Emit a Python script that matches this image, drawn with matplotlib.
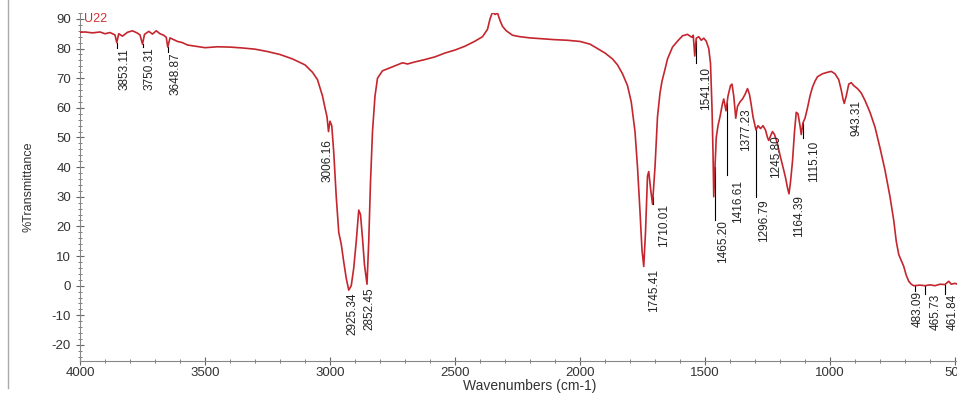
import numpy as np
import matplotlib
matplotlib.use("Agg")
import matplotlib.pyplot as plt
from matplotlib.lines import Line2D
from matplotlib.ticker import MultipleLocator

plt.rcParams['font.family'] = ['Liberation Sans', 'DejaVu Sans']
plt.rcParams['axes.unicode_minus'] = False

# spectrum (wavenumber, %T)
wavenumbers = [4000, 3980, 3950, 3920, 3900, 3880, 3860, 3853, 3845, 3830, 3810, 3790,
               3770, 3760, 3750, 3742, 3725, 3710, 3695, 3680, 3665, 3655, 3649, 3640,
               3625, 3610, 3590, 3570, 3540, 3500, 3450, 3400, 3350, 3300, 3250, 3200,
               3150, 3100, 3070, 3050, 3030, 3020, 3012, 3006, 3000, 2993, 2985, 2975,
               2965, 2955, 2945, 2935, 2925, 2915, 2905, 2895, 2885, 2878, 2870, 2862,
               2852, 2845, 2838, 2830, 2820, 2810, 2790, 2760, 2730, 2710, 2690, 2660,
               2620, 2580, 2540, 2500, 2460, 2420, 2390, 2370, 2360, 2350, 2340, 2330,
               2320, 2310, 2295, 2270, 2240, 2200, 2150, 2100, 2050, 2000, 1960, 1930,
               1900, 1870, 1850, 1830, 1810, 1795, 1780, 1770, 1760, 1752, 1745, 1738,
               1730, 1725, 1718, 1710, 1700, 1690, 1680, 1672, 1660, 1650, 1630, 1610,
               1590, 1570, 1560, 1552, 1547, 1541, 1535, 1525, 1515, 1505, 1495, 1485,
               1478, 1472, 1468, 1465, 1460, 1455, 1448, 1440, 1430, 1425, 1416, 1408,
               1398, 1392, 1385, 1377, 1370, 1360, 1350, 1340, 1330, 1322, 1315, 1308,
               1300, 1296, 1288, 1278, 1268, 1258, 1250, 1245, 1238, 1230, 1222, 1212,
               1200, 1188, 1178, 1170, 1164, 1158, 1150, 1142, 1135, 1128, 1120, 1115,
               1108, 1100, 1090, 1080, 1070, 1060, 1050, 1030, 1010, 995, 980, 965,
               955, 948, 943, 935, 925, 915, 905, 890, 875, 860, 840, 820,
               800, 780, 760, 745, 735, 725, 715, 705, 695, 685, 675, 665,
               640, 620, 600, 580, 560, 540, 525, 515, 500, 490]
transmittance = [85.5, 85.6, 85.3, 85.6, 85.0, 85.4, 84.6, 82.0, 85.0, 84.2, 85.5, 86.0,
                 85.2, 84.6, 81.5, 84.8, 85.8, 84.9, 86.0, 85.0, 84.5, 83.8, 80.5, 83.6,
                 83.0, 82.4, 82.0, 81.2, 80.8, 80.3, 80.6, 80.5, 80.2, 79.8, 79.0, 78.0,
                 76.5, 74.5, 72.0, 69.5, 64.0, 60.0, 57.0, 52.0, 55.5, 54.0, 45.0, 30.0,
                 18.0, 14.0, 8.0, 2.5, -1.5, 0.0, 6.0, 15.0, 25.5, 24.0, 16.0, 7.0,
                 0.5, 15.0, 35.0, 52.0, 64.0, 70.0, 72.5, 73.5, 74.5, 75.2, 74.8, 75.5,
                 76.3, 77.2, 78.5, 79.5, 80.8, 82.5, 84.0, 86.5, 90.0, 92.3, 91.5, 92.0,
                 89.5, 87.5, 86.0, 84.5, 84.0, 83.6, 83.3, 83.0, 82.8, 82.4, 81.5, 80.0,
                 78.5, 76.5, 74.5, 71.5, 67.5, 62.0, 52.0, 40.0, 25.0, 12.0, 6.5, 18.0,
                 37.0, 38.5, 33.0, 27.5, 40.0, 57.0, 65.0, 69.0, 73.0, 76.5, 80.5, 82.5,
                 84.3, 84.8, 84.2, 83.8, 84.5, 77.5, 83.5, 84.0, 82.8, 83.5, 82.5, 80.0,
                 75.0, 60.0, 45.0, 30.0, 40.0, 50.0, 54.0, 57.0, 61.5, 63.0, 59.0, 64.0,
                 67.5, 68.0, 64.0, 56.5, 60.5, 62.0, 63.0, 64.5, 66.5, 64.5, 61.0, 57.0,
                 54.0, 52.5, 54.0, 53.0, 54.0, 52.5, 50.0, 49.0, 50.5, 52.0, 51.0, 48.5,
                 44.0, 40.0, 36.5, 33.0, 31.0, 35.0, 42.0, 52.0, 58.5, 58.0, 54.0, 51.0,
                 55.0, 56.5, 60.0, 64.0, 67.0, 69.0, 70.5, 71.5, 72.0, 72.3, 71.5, 69.5,
                 66.0, 63.0, 61.5, 64.0, 68.0, 68.5, 67.5, 66.5, 65.0, 62.5, 58.5, 53.5,
                 46.5, 39.0, 30.0, 22.0, 15.0, 10.5, 8.5, 6.5, 3.5, 1.5, 0.5, 0.0,
                 0.2, 0.0, 0.3, 0.0, 0.5, 0.4, 1.5, 0.5, 0.8, 0.5]

peak_labels = ['3853.11', '3750.31', '3648.87', '3006.16', '2925.34', '2852.45',
               '1745.41', '1710.01', '1541.10', '1465.20', '1416.61', '1377.23',
               '1296.79', '1245.80', '1164.39', '1115.10', '943.31',
               '483.09', '465.73', '461.84']

# label placement: text x, text top y, marker line x (None = no line), line bottom y
label_layout = [(3844, 80.2, 3853, 80.2), (3744, 80.5, 3750, 80.5), (3640, 78.8, 3649, 78.8),
                (3032, 49.5, None, None), (2936, -2.4, None, None), (2868, -0.7, None, None),
                (1728, 5.8, None, None), (1688, 27.7, 1708, 27.7), (1520, 73.7, 1536, 75.0),
                (1452, 22.0, 1460, 22.0), (1392, 35.5, 1412, 37.2), (1360, 59.9, None, None),
                (1288, 29.1, 1296, 29.8), (1240, 50.7, None, None), (1148, 30.4, None, None),
                (1088, 49.0, 1108, 49.7), (920, 62.6, None, None),
                (672, -1.7, 662, -1.7), (600, -2.7, 620, -2.7), (532, -2.7, 540, -2.7)]

fig = plt.figure(figsize=(9.57, 3.96), dpi=100)
ax = fig.add_axes([80 / 957, 35 / 396, 900 / 957, 348 / 396])

ax.plot(wavenumbers, transmittance, color='#c4262e', lw=1.2, zorder=3)

for lab, (tx, ty, lx, ly) in zip(peak_labels, label_layout):
    if lx is not None:
        y0 = np.interp(lx, wavenumbers[::-1], transmittance[::-1])
        ax.plot([lx, lx], [y0, ly], color='black', lw=0.8, zorder=2)
    ax.text(tx, ty, lab, rotation=90, ha='left', va='top', fontsize=8.5, color='#222222')

ax.set_xlim(4000, 400)
ax.set_ylim(-25.4, 92)
ax.xaxis.set_major_locator(MultipleLocator(500))
ax.xaxis.set_minor_locator(MultipleLocator(100))
ax.yaxis.set_major_locator(MultipleLocator(10))
ax.yaxis.set_minor_locator(MultipleLocator(2))
ax.tick_params(which='major', direction='inout', length=6, width=0.8, color='#666666',
               labelsize=9.5, labelcolor='#333333')
ax.tick_params(axis='x', which='major', pad=1)
ax.tick_params(which='minor', direction='inout', length=3.5, width=0.6, color='#666666')
for s in ['top', 'right']:
    ax.spines[s].set_visible(False)
for s in ['left', 'bottom']:
    ax.spines[s].set_color('#888888')
    ax.spines[s].set_linewidth(0.8)

ax.set_xlabel('Wavenumbers (cm-1)', fontsize=10, color='#333333', labelpad=0)
ax.set_ylabel('%Transmittance', fontsize=9, color='#333333', labelpad=12)
ax.text(3985, 90, 'U22', color='#d03030', fontsize=9, va='center', ha='left')

fig.add_artist(Line2D([8 / 957, 8 / 957], [0.02, 1.0], color='#aaaaaa', lw=1))

fig.savefig('out.png', dpi=100)
